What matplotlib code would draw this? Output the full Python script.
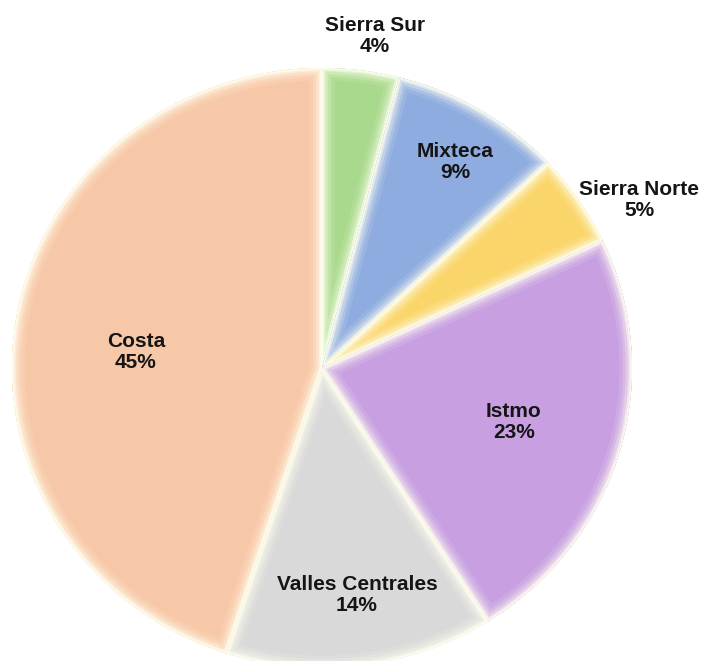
import numpy as np
import matplotlib
matplotlib.use("Agg")
import matplotlib.pyplot as plt
from matplotlib.colors import to_rgb
from matplotlib.patches import Wedge

# data, clockwise from the top
regiones = ["Sierra Sur", "Mixteca", "Sierra Norte", "Istmo", "Valles Centrales", "Costa"]
porcentajes = [4, 9, 5, 23, 14, 45]
colores = ["#A8D98C", "#8FACE0", "#FAD56A", "#C8A0E2", "#D9D9D9", "#F7C8A8"]
# label centres (data units, pie radius = 1)
etiqueta_x = [0.171, 0.429, 1.023, 0.619, 0.113, -0.600]
etiqueta_y = [1.107, 0.687, 0.560, -0.180, -0.757, 0.053]

plt.rcParams['font.family'] = ['Liberation Sans', 'DejaVu Sans']

fig = plt.figure(figsize=(7.01, 6.61), dpi=100)
ax = fig.add_axes([0, 0, 1, 1])

wedges, _ = ax.pie(porcentajes, colors=colores, startangle=90, counterclock=False,
                   radius=1.0, wedgeprops=dict(linewidth=0))

# soft light edge inside each slice
def mezcla(c, t):
    r, g, b = to_rgb(c)
    glow = np.array([1.0, 1.0, 0.94])
    return tuple(np.array([r, g, b]) * (1 - t) + glow * t)

for w, c in zip(wedges, colores):
    for lw, t in [(18, 0.1), (13, 0.25), (9, 0.45), (5, 0.7), (2.5, 0.92)]:
        p = Wedge(w.center, w.r, w.theta1, w.theta2, facecolor='none',
                  edgecolor=mezcla(c, t), linewidth=lw, joinstyle='round')
        ax.add_patch(p)
        p.set_clip_path(w)

# labels
for nombre, pct, x, y in zip(regiones, porcentajes, etiqueta_x, etiqueta_y):
    ax.text(x, y, f"{nombre}\n{pct}%", ha='center', va='center', fontsize=15,
            fontweight='bold', color='#151515', linespacing=1.15)

# slightly flattened pie, like the original
ax.set_aspect('auto')
ax.set_xlim(-1.0387, 1.2226)
ax.set_ylim(-0.9767, 1.2267)
ax.axis('off')

fig.savefig("out.png", dpi=100)
